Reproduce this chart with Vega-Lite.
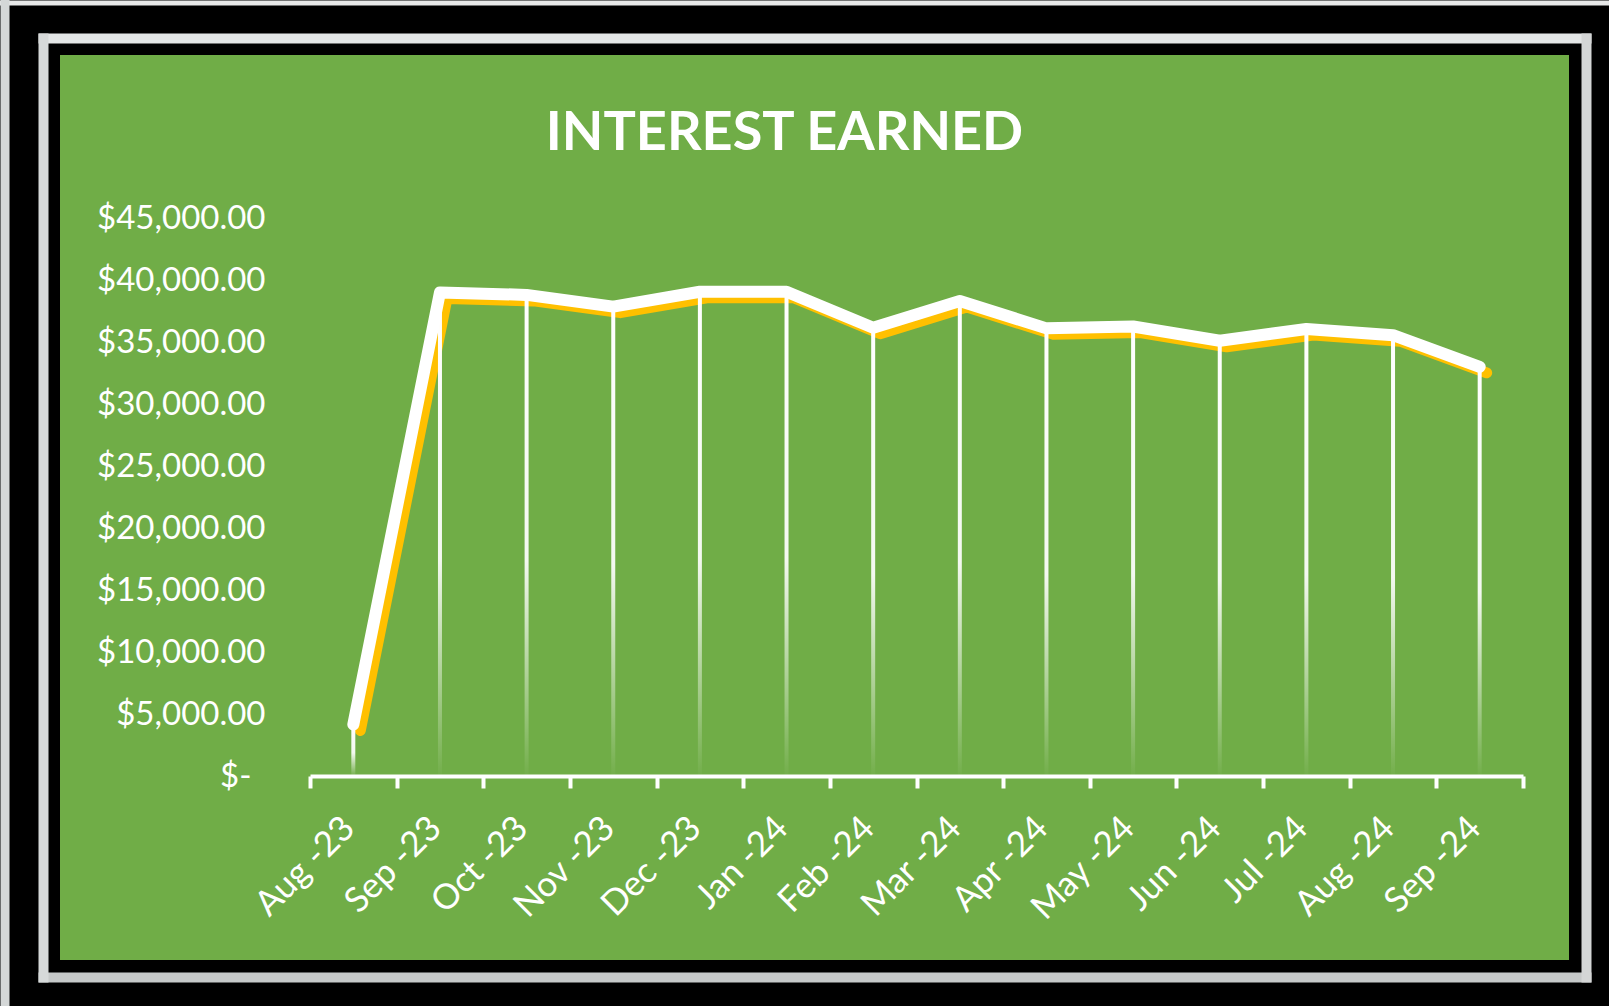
{
  "$schema": "https://vega.github.io/schema/vega-lite/v6.json",
  "width": 1543,
  "height": 939,
  "autosize": {"type": "none"},
  "padding": {"left": 43, "top": 38, "right": 23, "bottom": 29},
  "background": "#000000",
  "config": {
    "view": {"fill": "#70ad47", "stroke": "#000000", "strokeWidth": 34},
    "font": "Lato"
  },
  "title": {
    "text": "INTEREST EARNED",
    "color": "#ffffff",
    "font": "Lato",
    "fontSize": 54,
    "fontWeight": "bold",
    "anchor": "middle",
    "frame": "group",
    "dx": -30,
    "dy": 165
  },
  "data": {
    "values": [
      {"month": "Aug -23", "interest": 4150},
      {"month": "Sep -23", "interest": 39000},
      {"month": "Oct -23", "interest": 38800},
      {"month": "Nov -23", "interest": 37850},
      {"month": "Dec -23", "interest": 39050},
      {"month": "Jan -24", "interest": 39050},
      {"month": "Feb -24", "interest": 36150},
      {"month": "Mar -24", "interest": 38300},
      {"month": "Apr -24", "interest": 36100},
      {"month": "May -24", "interest": 36250},
      {"month": "Jun -24", "interest": 35100},
      {"month": "Jul -24", "interest": 36050},
      {"month": "Aug -24", "interest": 35550},
      {"month": "Sep -24", "interest": 33000}
    ]
  },
  "layer": [
    {
      "layer": [
        {
          "mark": {"type": "line", "color": "#ffc000", "strokeWidth": 11, "strokeCap": "round", "strokeJoin": "round", "xOffset": 7, "yOffset": 6},
          "encoding": {
            "x": {
              "field": "month", "type": "nominal", "sort": null,
              "scale": {"type": "band", "range": [267, 1480], "paddingInner": 0, "paddingOuter": 0},
              "axis": {
                "orient": "bottom", "offset": -201, "title": null, "grid": false,
                "domainColor": "#ffffff", "domainWidth": 4,
                "tickColor": "#ffffff", "tickWidth": 4, "tickSize": 12, "tickBand": "extent",
                "labelAngle": -45, "labelAlign": "right", "labelBaseline": "middle",
                "labelColor": "#ffffff", "labelFont": "Lato", "labelFontSize": 35,
                "labelPadding": 34, "labelOffset": -5, "labelOverlap": false
              }
            },
            "y": {
              "field": "interest", "type": "quantitative",
              "scale": {"domain": [0, 45000], "range": [738, 180], "nice": false, "zero": true},
              "axis": {
                "orient": "left", "offset": -267, "title": null, "grid": false,
                "domain": false, "ticks": false,
                "values": [0, 5000, 10000, 15000, 20000, 25000, 30000, 35000, 40000, 45000],
                "labelExpr": "datum.value == 0 ? '$-' : format(datum.value, '$,.2f')",
                "labelColor": "#ffffff", "labelFont": "Lato", "labelFontSize": 33,
                "labelPadding": {"condition": {"test": "datum.value == 0", "value": 59}, "value": 45}
              }
            }
          }
        },
        {
          "mark": {
            "type": "bar", "width": 4,
            "color": {
              "gradient": "linear", "x1": 0, "y1": 0, "x2": 0, "y2": 1,
              "stops": [
                {"offset": 0, "color": "rgba(255,255,255,1)"},
                {"offset": 0.55, "color": "rgba(255,255,255,0.92)"},
                {"offset": 1, "color": "rgba(255,255,255,0.02)"}
              ]
            }
          },
          "encoding": {
            "x": {"field": "month", "type": "nominal", "sort": null},
            "y": {"field": "interest", "type": "quantitative"}
          }
        },
        {
          "mark": {"type": "line", "color": "#ffffff", "strokeWidth": 12, "strokeCap": "round", "strokeJoin": "round"},
          "encoding": {
            "x": {"field": "month", "type": "nominal", "sort": null},
            "y": {"field": "interest", "type": "quantitative"}
          }
        }
      ]
    },
    {
      "mark": {"type": "point", "opacity": 0},
      "encoding": {
        "x": {"field": "month", "type": "nominal", "sort": null,
          "axis": {"orient": "top", "title": null, "labels": false, "ticks": false, "grid": false, "domainColor": "#e4e6e6", "domainWidth": 10, "domainCap": "square"}},
        "y": {"field": "interest", "type": "quantitative",
          "axis": {"orient": "left", "title": null, "labels": false, "ticks": false, "grid": false, "domainColor": "#d6d9d9", "domainWidth": 10, "domainCap": "square"}}
      }
    },
    {
      "mark": {"type": "point", "opacity": 0},
      "encoding": {
        "x": {"field": "month", "type": "nominal", "sort": null,
          "axis": {"orient": "bottom", "title": null, "labels": false, "ticks": false, "grid": false, "domainColor": "#c6c9c9", "domainWidth": 10, "domainCap": "square"}},
        "y": {"field": "interest", "type": "quantitative",
          "axis": {"orient": "right", "title": null, "labels": false, "ticks": false, "grid": false, "domainColor": "#d4d6d6", "domainWidth": 10, "domainCap": "square"}}
      }
    },
    {
      "mark": {"type": "point", "opacity": 0},
      "encoding": {
        "x": {"field": "month", "type": "nominal", "sort": null,
          "scale": {"range": [-60, 1620]},
          "axis": {"orient": "top", "offset": 35.5, "title": null, "labels": false, "ticks": false, "grid": false, "domainColor": "#e8e9e9", "domainWidth": 5}},
        "y": {"field": "interest", "type": "quantitative",
          "scale": {"range": [1000, -60]},
          "axis": {"orient": "left", "offset": 38.5, "title": null, "labels": false, "ticks": false, "grid": false, "domainColor": "#d4d7d7", "domainWidth": 9}}
      }
    }
  ],
  "resolve": {
    "scale": {"x": "independent", "y": "independent"},
    "axis": {"x": "independent", "y": "independent"}
  }
}
